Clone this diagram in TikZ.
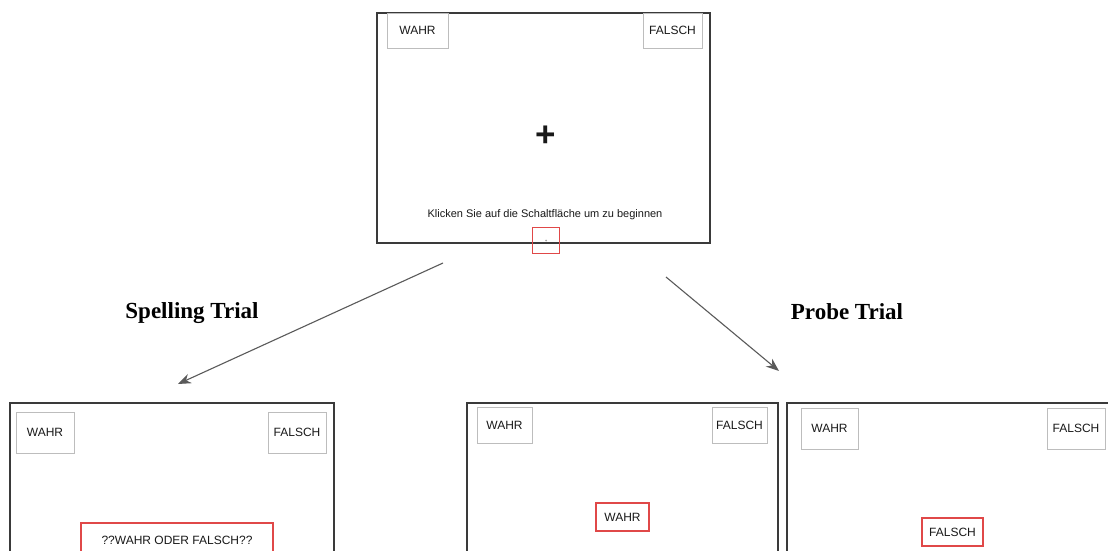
\documentclass[tikz,border=0pt]{standalone}
\usepackage{fontspec}
\setmainfont{Liberation Sans}
\newfontfamily\serifb{Liberation Serif}
\usetikzlibrary{arrows.meta}
\definecolor{frame}{HTML}{3A3A3A}
\definecolor{btngray}{HTML}{BDBDBD}
\definecolor{redb}{HTML}{E04848}
\definecolor{arrowc}{HTML}{5A5A5A}
\begin{document}
\begin{tikzpicture}[x=1pt,y=-1pt,
  screen/.style={draw=frame, line width=1.4pt, inner sep=0pt, outer sep=0pt, anchor=north west},
  btn/.style={draw=btngray, line width=0.8pt, inner sep=0pt, outer sep=0pt, anchor=north west, font=\fontsize{12}{14}\selectfont, text=black!90},
  redbtn/.style={draw=redb, line width=1.2pt, inner sep=0pt, outer sep=0pt, anchor=north west, font=\fontsize{12}{14}\selectfont, text=black!90},
  trial/.style={font=\serifb\bfseries\fontsize{23}{26}\selectfont, inner sep=0pt},
  conn/.style={draw=arrowc, line width=1.1pt, -{Stealth[length=13pt,width=10pt]}}]
\useasboundingbox (0,0) rectangle (1108,551);
\clip (0,0) rectangle (1108,551);
\fill[white] (0,0) rectangle (1108,551);

% top screen
\node[screen, minimum width=333pt, minimum height=230pt] (top) at (377,13) {};
\node[btn, minimum width=61pt, minimum height=35pt] (tw) at (387,13) {WAHR};
\node[btn, minimum width=59pt, minimum height=35pt] (tf) at (643,13) {FALSCH};
\node[font=\bfseries\fontsize{35}{36}\selectfont, inner sep=0pt, anchor=base, text=black!90] (plus) at (546,146) {+};
\node[font=\fontsize{11}{13}\selectfont, inner sep=0pt, text=black!90] (klick) at (545,215) {Klicken Sie auf die Schaltfläche um zu beginnen};
\node[draw=redb, line width=1.2pt, inner sep=0pt, anchor=north west, minimum width=27pt, minimum height=26pt] (start) at (532,227) {};
\fill[black!35] (start.center) circle (1pt);

% arrows
\coordinate (a1s) at (443,263);
\coordinate (a1e) at (178,384);
\coordinate (a2s) at (666,277);
\coordinate (a2e) at (779,371);
\draw[conn] (a1s) -- (a1e);
\draw[conn] (a2s) -- (a2e);
\node[trial] (spell) at (192,313) {Spelling Trial};
\node[trial] (probe) at (847,312) {Probe Trial};

% bottom left screen
\node[screen, minimum width=324pt, minimum height=170pt] (s1) at (10,403) {};
\node[btn, minimum width=58pt, minimum height=41pt] (s1w) at (16,412) {WAHR};
\node[btn, minimum width=58pt, minimum height=41pt] (s1f) at (268,412) {FALSCH};
\node[redbtn, minimum width=192pt, minimum height=34pt] (s1r) at (81,523) {??WAHR ODER FALSCH??};

% bottom middle screen
\node[screen, minimum width=311pt, minimum height=170pt] (s2) at (467,403) {};
\node[btn, minimum width=55pt, minimum height=36pt] (s2w) at (477,407) {WAHR};
\node[btn, minimum width=55pt, minimum height=36pt] (s2f) at (712,407) {FALSCH};
\node[redbtn, minimum width=53pt, minimum height=28pt] (s2r) at (596,503) {WAHR};

% bottom right screen
\node[screen, minimum width=340pt, minimum height=170pt] (s3) at (787,403) {};
\node[btn, minimum width=57pt, minimum height=41pt] (s3w) at (801,408) {WAHR};
\node[btn, minimum width=58pt, minimum height=41pt] (s3f) at (1047,408) {FALSCH};
\node[redbtn, minimum width=61pt, minimum height=28pt] (s3r) at (922,518) {FALSCH};
\end{tikzpicture}
\end{document}
